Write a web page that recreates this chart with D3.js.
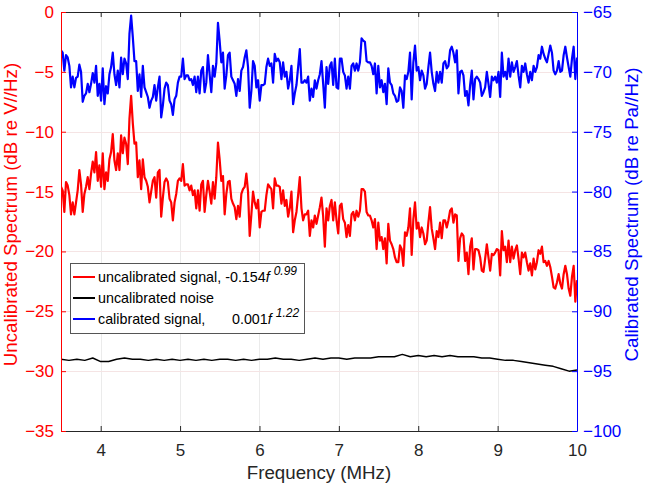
<!DOCTYPE html>
<html>
<head>
<meta charset="utf-8">
<script src="https://cdn.jsdelivr.net/npm/d3@7"></script>
<style>
  body { margin: 0; background: #fff; }
  svg { display: block; font-family: "Liberation Sans", Arial, sans-serif; }
</style>
</head>
<body>
<script>
// spectra sampled on an even grid from 3.5 to 10 MHz
var freqStart = 3.5, freqEnd = 10;

var uncalSignal = [
  -14.6,-14.9,-16.7,-14.2,-14.5,-15.3,-16.9,-15.9,-16.9,-15.9,
  -14.9,-13.2,-14.4,-16.7,-15.2,-14.6,-13.8,-14.8,-13.5,-12.5,
  -13.4,-11.7,-14.1,-12.8,-14.6,-11.8,-14.8,-13.4,-14.1,-12.3,
  -11.7,-10.2,-12.4,-13.2,-11.8,-13.2,-10.3,-11.8,-10.5,-11.0,
  -12.7,-8.9,-7.0,-9.3,-11.0,-10.9,-13.8,-12.4,-14.8,-12.3,
  -13.8,-14.1,-14.6,-15.9,-15.0,-14.1,-13.8,-15.5,-13.4,-13.2,
  -17.1,-15.5,-14.2,-13.9,-14.2,-15.6,-15.9,-17.4,-15.9,-15.2,
  -14.1,-13.9,-14.1,-12.7,-14.5,-14.4,-14.4,-14.9,-14.5,-15.3,
  -14.9,-16.4,-14.9,-16.6,-14.4,-14.1,-16.7,-15.3,-14.1,-15.0,
  -16.0,-14.2,-15.6,-13.8,-10.9,-12.3,-14.1,-13.7,-16.9,-15.2,
  -14.2,-14.1,-15.6,-16.0,-16.3,-17.3,-16.2,-17.1,-15.2,-14.8,
  -14.6,-13.5,-15.0,-18.7,-16.9,-15.0,-15.9,-16.4,-15.7,-18.0,
  -16.7,-16.6,-16.6,-15.3,-14.4,-14.6,-14.8,-16.4,-13.9,-14.5,
  -14.5,-14.6,-16.0,-14.9,-16.2,-15.7,-17.1,-16.4,-15.0,-18.4,
  -17.4,-16.7,-15.3,-13.8,-16.4,-17.4,-16.9,-16.9,-16.6,-18.7,
  -17.4,-18.0,-17.0,-17.7,-17.0,-16.3,-15.5,-17.1,-19.6,-16.4,
  -17.4,-16.2,-15.7,-17.4,-15.9,-17.4,-18.5,-16.2,-16.0,-17.3,
  -17.6,-18.8,-17.8,-18.7,-16.9,-16.7,-17.4,-16.6,-17.1,-16.6,
  -14.8,-14.8,-15.0,-16.7,-17.0,-17.0,-17.4,-18.0,-17.3,-19.8,
  -17.6,-19.1,-18.8,-19.8,-18.9,-21.0,-17.7,-19.1,-19.4,-19.8,
  -20.5,-20.9,-20.9,-19.5,-19.8,-21.2,-18.4,-18.7,-18.0,-16.4,
  -20.3,-17.3,-15.9,-18.1,-17.6,-18.8,-18.0,-18.5,-19.4,-19.1,
  -17.6,-16.3,-18.1,-18.9,-19.8,-18.3,-18.8,-17.6,-18.9,-17.4,
  -17.4,-18.0,-17.4,-16.6,
  -16.4,-17.6,-16.9,-17.0,-20.8,-18.9,-18.5,-18.7,-20.8,-20.1,
  -21.9,-19.6,-18.9,-21.5,-19.8,-19.8,-19.9,-20.5,-21.6,-21.7,
  -20.6,-19.4,-20.5,-21.6,-20.2,-20.3,-20.1,-19.8,-19.9,-22.0,
  -18.3,-19.9,-19.6,-20.9,-19.1,-20.9,-19.6,-20.6,-19.9,-19.5,
  -20.6,-21.9,-20.1,-20.5,-20.1,-20.9,-21.6,-21.0,-22.0,-20.6,
  -21.5,-20.9,-19.9,-20.2,-19.6,-20.9,-20.8,-21.2,-20.8,-21.3,
  -22.1,-23.0,-23.1,-22.6,-21.9,-22.7,-23.1,-21.9,-21.2,-21.9,
  -23.1,-23.7,-22.1,-21.2,-24.2,-22.4
];

var calSignal = [
  -68.2,-68.4,-69.9,-68.6,-68.8,-69.5,-71.3,-70.4,-71.3,-70.5,
  -70.4,-69.4,-70.0,-72.5,-72.0,-71.8,-71.0,-71.7,-71.0,-70.1,
  -70.9,-69.5,-72.0,-71.0,-72.4,-69.7,-72.7,-71.2,-71.8,-70.2,
  -69.6,-68.4,-70.2,-71.1,-69.9,-71.3,-68.8,-70.2,-68.9,-69.3,
  -70.6,-66.8,-65.3,-67.1,-69.1,-69.1,-71.6,-70.2,-72.1,-69.5,
  -71.3,-71.7,-72.1,-73.0,-72.4,-72.1,-71.1,-72.4,-71.3,-70.4,
  -73.8,-72.8,-71.4,-70.9,-71.1,-72.4,-72.7,-73.6,-72.3,-72.0,
  -70.9,-70.4,-70.4,-68.9,-70.6,-70.3,-70.3,-70.7,-70.6,-71.1,
  -70.4,-71.7,-70.4,-71.8,-69.9,-69.6,-71.7,-70.9,-68.6,-70.2,
  -71.7,-69.5,-70.4,-69.3,-65.9,-67.4,-69.2,-68.4,-71.4,-70.3,
  -68.6,-68.4,-70.4,-70.7,-71.0,-72.0,-70.6,-71.6,-69.9,-69.6,
  -68.8,-68.2,-69.6,-73.0,-71.6,-69.1,-69.5,-71.3,-70.7,-72.4,
  -71.1,-71.1,-71.0,-69.6,-68.9,-69.5,-69.3,-70.9,-68.5,-69.1,
  -68.9,-69.2,-70.6,-69.2,-70.4,-70.0,-71.4,-70.7,-69.5,-72.7,
  -71.8,-71.1,-69.6,-68.1,-70.9,-70.9,-70.7,-70.9,-70.4,-72.4,
  -71.4,-72.1,-70.7,-71.4,-70.7,-70.2,-69.1,-71.0,-73.0,-69.6,
  -71.0,-69.5,-69.2,-71.1,-68.9,-71.3,-71.4,-68.9,-68.9,-70.0,
  -70.3,-71.4,-70.4,-71.4,-69.5,-69.3,-69.9,-69.3,-69.9,-69.2,
  -67.2,-67.4,-67.5,-69.1,-69.2,-69.2,-69.5,-70.2,-69.3,-71.8,
  -69.5,-71.3,-70.7,-71.7,-71.0,-72.7,-69.7,-70.9,-71.1,-71.8,
  -72.0,-72.5,-72.4,-71.3,-71.6,-73.0,-70.3,-70.6,-70.0,-68.4,
  -72.3,-69.2,-67.8,-69.9,-69.6,-70.7,-69.9,-70.3,-71.4,-71.0,
  -69.6,-68.4,-70.0,-71.0,-71.6,-70.0,-70.9,-70.0,-70.9,-69.3,
  -69.1,-69.7,-69.5,-68.2,
  -67.9,-68.4,-69.2,-68.2,-71.8,-70.0,-69.9,-70.3,-72.0,-71.6,
  -72.8,-71.1,-69.9,-72.3,-70.6,-70.4,-70.6,-70.9,-72.0,-71.7,
  -71.3,-70.0,-71.0,-72.1,-70.4,-70.7,-70.4,-70.9,-70.0,-72.1,
  -68.4,-70.4,-70.0,-70.6,-68.9,-70.4,-69.2,-70.0,-69.6,-69.1,
  -70.3,-71.3,-69.5,-70.0,-69.3,-70.2,-70.9,-70.0,-70.7,-69.5,
  -70.0,-69.6,-68.6,-68.9,-67.9,-68.5,-68.9,-69.2,-68.5,-67.8,
  -68.4,-69.9,-70.2,-69.9,-69.1,-70.0,-69.9,-68.6,-67.9,-68.8,
  -69.6,-70.4,-68.9,-67.9,-70.6,-68.8
];

// noise floor, one value per 0.1 MHz
var uncalNoise = [
  -29.0,-29.1,-29.0,-29.1,-28.9,-29.2,-29.2,-29.0,-28.9,-29.0,
  -29.0,-29.1,-29.0,-29.1,-29.0,-29.1,-29.0,-29.1,-29.0,-29.1,
  -29.0,-29.0,-29.1,-29.0,-29.1,-29.0,-29.0,-28.9,-29.0,-29.0,
  -29.1,-29.0,-28.9,-29.0,-28.9,-28.9,-29.0,-28.9,-28.9,-28.9,
  -28.8,-28.8,-28.8,-28.6,-28.8,-28.7,-28.8,-28.7,-28.8,-28.7,
  -28.8,-28.8,-28.8,-28.9,-28.9,-29.0,-29.1,-29.1,-29.2,-29.3,
  -29.4,-29.5,-29.6,-29.8,-30.0,-29.9
];

var xTicks = [4, 5, 6, 7, 8, 9, 10];
var leftTicks = [0, -5, -10, -15, -20, -25, -30, -35];
var rightTicks = [-65, -70, -75, -80, -85, -90, -95, -100];

var margin = {top: 12, right: 68, bottom: 56, left: 61},
  width = 645 - margin.left - margin.right,
  height = 487 - margin.top - margin.bottom;

var svg = d3.select("body").append("svg")
  .attr("width", 645)
  .attr("height", 487)
  .append("g")
  .attr("transform", "translate(" + margin.left + "," + margin.top + ")");

var x = d3.scaleLinear().domain([freqStart, freqEnd]).range([0, width]);
var yL = d3.scaleLinear().domain([-35, 0]).range([height, 0]);
var yR = d3.scaleLinear().domain([-100, -65]).range([height, 0]);

var step = (freqEnd - freqStart) / (uncalSignal.length - 1);
var sigData = uncalSignal.map(function(v, i){ return {f: freqStart + i*step, u: v, c: calSignal[i]}; });
var noiseData = uncalNoise.map(function(v, i){ return {f: freqStart + i*0.1, v: v}; });

// grid
svg.append("g").selectAll("line").data(xTicks.slice(0, -1)).enter().append("line")
  .attr("x1", function(d){ return Math.round(x(d)) + 0.5; })
  .attr("x2", function(d){ return Math.round(x(d)) + 0.5; })
  .attr("y1", 0).attr("y2", height)
  .attr("stroke", "#ebebeb");
svg.append("g").selectAll("line").data(leftTicks.slice(1, -1)).enter().append("line")
  .attr("x1", 0).attr("x2", width)
  .attr("y1", function(d){ return Math.round(yL(d)) + 0.5; })
  .attr("y2", function(d){ return Math.round(yL(d)) + 0.5; })
  .attr("stroke", "#f5e4e4");

svg.append("clipPath").attr("id", "clip")
  .append("rect").attr("width", width).attr("height", height);

var plot = svg.append("g").attr("clip-path", "url(#clip)");

var lineU = d3.line().x(function(d){ return x(d.f); }).y(function(d){ return yL(d.u); });
var lineC = d3.line().x(function(d){ return x(d.f); }).y(function(d){ return yR(d.c); });
var lineN = d3.line().x(function(d){ return x(d.f); }).y(function(d){ return yL(d.v); });

plot.append("path").datum(sigData).attr("d", lineC)
  .attr("fill", "none").attr("stroke", "#0000ff").attr("stroke-width", 2.2).attr("stroke-linejoin", "round");
plot.append("path").datum(sigData).attr("d", lineU)
  .attr("fill", "none").attr("stroke", "#ff0000").attr("stroke-width", 2.2).attr("stroke-linejoin", "round");
plot.append("path").datum(noiseData).attr("d", lineN)
  .attr("fill", "none").attr("stroke", "#000").attr("stroke-width", 1.5).attr("stroke-linejoin", "round");

// axes
function styleAxis(g, color){
  g.selectAll("path, line").attr("stroke", color);
  g.selectAll("text").attr("fill", color).style("font-size", "17px")
    .style("font-family", "'Liberation Sans', Arial, sans-serif");
}

svg.append("g")
  .attr("transform", "translate(0," + height + ")")
  .call(d3.axisBottom(x).tickValues(xTicks).tickSize(-5).tickSizeOuter(0).tickPadding(13)
    .tickFormat(d3.format("d")))
  .call(styleAxis, "#262626");

svg.append("g")
  .call(d3.axisTop(x).tickValues(xTicks).tickSize(-5).tickSizeOuter(0).tickFormat(""))
  .call(styleAxis, "#262626");

svg.append("g")
  .call(d3.axisLeft(yL).tickValues(leftTicks).tickSize(-5).tickSizeOuter(0).tickPadding(7))
  .call(styleAxis, "#ff0000");

svg.append("g")
  .attr("transform", "translate(" + width + ",0)")
  .call(d3.axisRight(yR).tickValues(rightTicks).tickSize(-5).tickSizeOuter(0).tickPadding(6))
  .call(styleAxis, "#0000ff");

// axis titles
svg.append("text")
  .attr("x", width / 2).attr("y", height + 48)
  .attr("text-anchor", "middle").attr("fill", "#262626")
  .style("font-size", "18.7px")
  .text("Frequency (MHz)");

svg.append("text")
  .attr("transform", "translate(" + (-44) + "," + (height / 2 - 7) + ") rotate(-90)")
  .attr("text-anchor", "middle").attr("fill", "#ff0000")
  .style("font-size", "18.7px")
  .text("Uncalibrated Spectrum (dB re V//Hz)");

svg.append("text")
  .attr("transform", "translate(" + (width + 61) + "," + (height / 2 - 7) + ") rotate(-90)")
  .attr("text-anchor", "middle").attr("fill", "#0000ff")
  .style("font-size", "18.7px")
  .text("Calibrated Spectrum (dB re Pa//Hz)");

// legend
var legend = svg.append("g").attr("transform", "translate(9,251)");
legend.append("rect")
  .attr("x", 0.5).attr("y", 0.5).attr("width", 234).attr("height", 70)
  .attr("fill", "#fff").attr("stroke", "#555").attr("stroke-width", 1);

var entries = [
  {color: "#ff0000", label: "uncalibrated signal, -0.154", coef: null, exp: "0.99"},
  {color: "#000000", label: "uncalibrated noise", coef: null, exp: null},
  {color: "#0000ff", label: "calibrated signal,", coef: "0.001", exp: "1.22"}
];

entries.forEach(function(e, i){
  var cy = 14 + i * 21;
  legend.append("line")
    .attr("x1", 3).attr("x2", 25).attr("y1", cy).attr("y2", cy)
    .attr("stroke", e.color).attr("stroke-width", 2);
  var t = legend.append("text")
    .attr("x", 28).attr("y", cy + 5)
    .attr("fill", "#000").style("font-size", "14.3px");
  t.append("tspan").text(e.label);
  if (e.coef) t.append("tspan").attr("x", 162).text(e.coef);
  if (e.exp) {
    t.append("tspan").style("font-style", "italic").text("f");
    t.append("tspan").attr("dx", 4).attr("dy", -7).style("font-style", "italic")
      .style("font-size", "12px").text(e.exp);
  }
});
</script>
</body>
</html>
